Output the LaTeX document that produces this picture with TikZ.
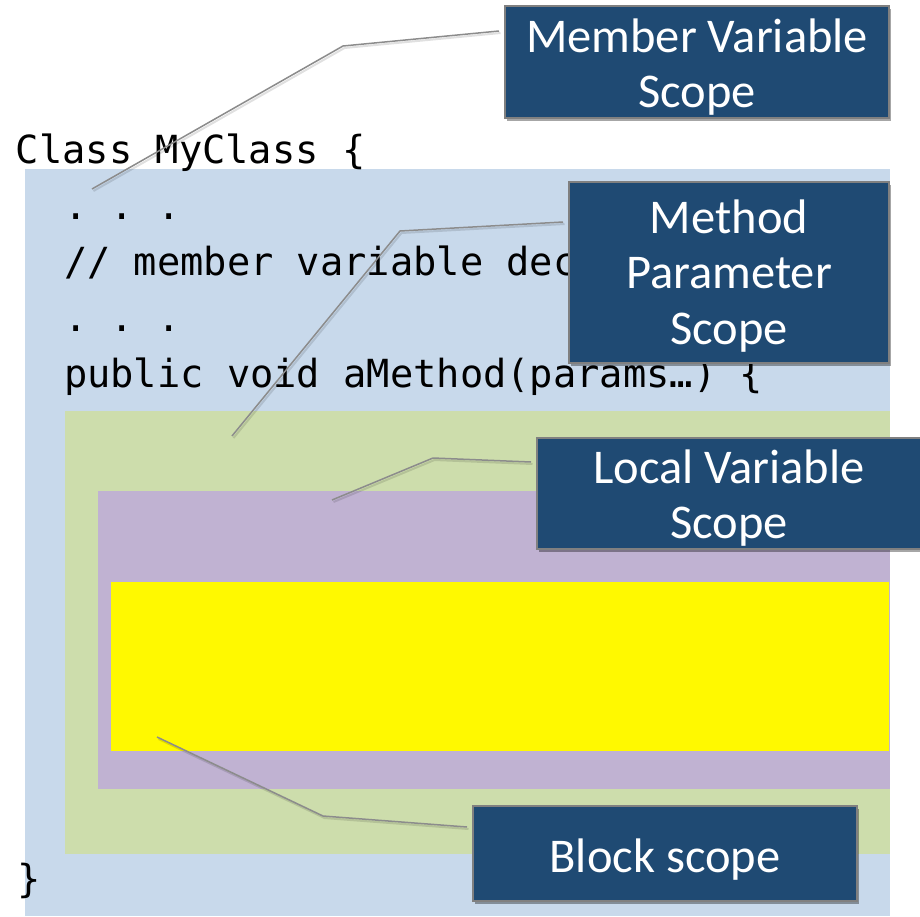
\documentclass[tikz,border=0pt]{standalone}
\usepackage{fontspec}
\setmainfont{Carlito}
\newfontfamily\codefont{DejaVu Sans Mono}
\usetikzlibrary{shadows}
\definecolor{bgblue}{HTML}{C8D9EB}
\definecolor{methodgreen}{HTML}{CDDDAC}
\definecolor{localpurple}{HTML}{C0B2D2}
\definecolor{blockyellow}{HTML}{FFF900}
\definecolor{boxblue}{HTML}{1F4A73}
\definecolor{bordergray}{HTML}{808080}
\definecolor{conngray}{HTML}{8C8C8C}
\pgfdeclarelayer{under}
\pgfsetlayers{under,main}
\tikzset{
  scopebox/.style={draw=bordergray, line width=1.5pt, fill=boxblue, text=white,
    inner xsep=0pt, inner ysep=0pt, outer sep=0pt, align=center, anchor=north,
    font=\fontsize{48.5}{55.5}\selectfont,
    drop shadow={shadow xshift=2pt, shadow yshift=-3pt, opacity=0.35, fill=black}},
  codeline/.style={anchor=base west, inner sep=0pt, outer sep=0pt,
    font=\codefont\fontsize{38.7}{56}\selectfont\frenchspacing},
  conn/.style={draw=conngray, line width=1.5pt, line join=round,
    preaction={draw=black, opacity=0.12, line width=2pt,
      transform canvas={shift={(1.5pt,-2pt)}}}},
}
\begin{document}
\begin{tikzpicture}[x=1pt,y=-1pt]
\useasboundingbox (0,0) rectangle (920,916);
% callout boxes
\node[scopebox, minimum width=384pt] (mv) at (697,6)
  {\rule{0pt}{46pt}Member Variable\\Scope\rule[-10.5pt]{0pt}{10.5pt}};
\node[scopebox, minimum width=320pt] (mp) at (729,182)
  {\rule{0pt}{51pt}Method\\Parameter\\Scope\rule[-19pt]{0pt}{19pt}};
\node[scopebox, minimum width=384pt] (lv) at (729,438)
  {\rule{0pt}{45pt}Local Variable\\Scope\rule[-10.5pt]{0pt}{10.5pt}};
\node[scopebox, minimum width=384pt] (bs) at (665,806)
  {\rule[-29pt]{0pt}{95pt}Block scope};
\begin{pgfonlayer}{under}
\fill[white] (0,0) rectangle (920,916);
% scope regions
\fill[bgblue] (25,169) rectangle (890,916);
\fill[methodgreen] (65,411) rectangle (890,854);
\fill[localpurple] (98,491) rectangle (890,789);
\fill[blockyellow] (111,582) rectangle (889,751);
% code
\node[codeline] (c1) at (16,163) {Class MyClass \{};
\node[codeline] (c2) at (64,219) {. . .};
\node[codeline] (c3) at (64,275) {// member variable dec};
\node[codeline] (c4) at (64,331) {. . .};
\node[codeline] (c5) at (64,387) {public void aMethod(params…) \{};
\node[codeline] (c6) at (17,892) {\}};
% connector points
\coordinate (mvbend) at (343,46);
\coordinate (mvend) at (92,189);
\coordinate (mpbend) at (400,231);
\coordinate (mpend) at (232,436);
\coordinate (lvbend) at (433,458);
\coordinate (lvend) at (332,500);
\coordinate (bsbend) at (323,816);
\coordinate (bsend) at (157,737);
\draw[conn] ([shift={(-6,25)}]mv.north west) -- (mvbend) -- (mvend);
\draw[conn] ([shift={(-6,40)}]mp.north west) -- (mpbend) -- (mpend);
\draw[conn] ([shift={(-6,24)}]lv.north west) -- (lvbend) -- (lvend);
\draw[conn] ([shift={(-6,21)}]bs.north west) -- (bsbend) -- (bsend);
\end{pgfonlayer}
\end{tikzpicture}
\end{document}
